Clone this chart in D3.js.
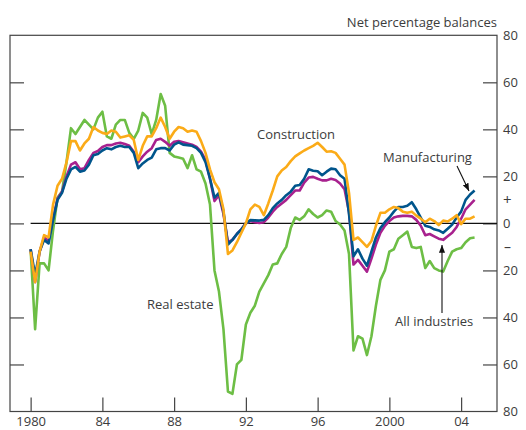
<!DOCTYPE html>
<html><head><meta charset="utf-8">
<script src="https://cdn.jsdelivr.net/npm/d3@7"></script>
<style>
html,body{margin:0;padding:0;background:#fff;}
svg{display:block;font-family:"Open Sans","Noto Sans",sans-serif;}
</style></head>
<body><svg id="c" width="526" height="430"></svg>
<script>
// Quarterly data, 1980 Q1 .. 2004 Q4
const startYear = 1980;
const manufacturing = [-11,-22,-12,-7,-8.5,1.5,10,13,19,23,24,22,22.5,25,29,29.5,31,32,31.5,32.5,33,32.5,32.5,30,23.5,25.5,27,28,31.5,32,32,31,33.5,34.5,33.5,33.3,33,32,30,26,
19,11,13,5,-9,-7,-4.5,-2.5,0,1.4,1.3,1.2,1.5,3.5,6.5,8.5,10,12,13.5,16,16.3,19,23,22.4,22.2,20.5,22,23.3,23,20.5,19,4,
-14,-11,-15,-18,-12,-6,-2,0.5,2.5,5,7,7,7.5,9,6,2.5,-1,-1.5,-2.5,-3,-4,-2.3,-0.5,2.5,5,10,12.3,14];
const allIndustries = [-11,-25,-12,-6,-7.5,2,10.5,13.5,20,25,26,23,23.5,27,30,30.8,32.5,33.3,33.3,34,34.3,33.8,33,30.5,26,28.5,30.5,32,35.5,36,34.7,33,34.7,35,34.5,34,33.5,32.5,30.5,27,
19,9.5,12,4,-8,-7,-4.5,-2.5,0,1,0.5,0.2,0.5,2.5,5,7,8.5,10,12,14,14,17.3,19.5,19.8,19,18.3,18.3,19,18.5,17,14.5,5,
-17.5,-15.5,-18,-20.5,-15,-9,-4,-1,1,2.5,3,3.2,3.2,3,1.5,-1,-5,-4.5,-5.5,-6.5,-7,-5.5,-4,-1.5,2,6,8,10];
const construction = [-12,-25,-12,-5,-6,8,16,19,26,35,35,31,34,36,41,39.5,38.5,38,39.5,39,36.5,37,37.5,35.5,27,33,37,37,40.5,45,41,36,39,41,40.5,39,39.5,39,35,30,
23,17.5,14.5,6,-13,-11.5,-8,-4,0,6,8,7,3.5,8.5,14,20,22.5,24,26.5,28.5,29.8,31,32,33,34.3,32.5,30.5,30.7,30,27.5,25,13,
-7,-6,-8,-10,-7.5,-1,4.5,4.5,6,7,6.5,5,4.5,5,3.3,2,0.5,2,1,-0.7,1.2,0.8,2,3.5,-0.3,2,2,3];
const realEstate = [-11,-45,-17,-17,-20,-3,11,13.5,26,40.5,38,41,44,42,40,45,47.5,37,36,42,44,44,38.5,36,39.5,47,45,38,44,55,50,30,28.5,28,27.5,23.5,29,23,22,17,
8,-20,-29,-45,-71.5,-72.5,-60,-58,-43,-38,-35,-29,-25.5,-22,-17.5,-17,-13,-10,-2,2.5,1.5,3,6,4,2.5,3.5,5.5,5,1,-0.5,-3,-13,
-54,-48,-49,-56,-48,-35,-24,-20,-12,-11,-6.5,-5,-3.5,-10,-10.5,-10,-19,-16,-19,-20,-20.5,-16,-12,-11,-10.5,-8,-6.3,-6];
const yTickValues = [80,60,40,20,0,-20,-40,-60,-80];
const xTickValues = [1980,1984,1988,1992,1996,2000,2004];
const xTickLabels = ["1980","84","88","92","96","2000","04"];

const svg = d3.select("#c");
const L = 10, R = 497, T = 35.3, B = 411.5;
const x = d3.scaleLinear().domain([1978.85, 2006.0]).range([L, R]);
const y = d3.scaleLinear().domain([-80, 80]).range([B, T]);
const ink = "#3c3c3c";

// frame
svg.append("rect").attr("x",L).attr("y",T).attr("width",R-L).attr("height",B-T)
  .attr("fill","none").attr("stroke","#444").attr("stroke-width",1.2);

// inner ticks
const innerY = [60,40,20,0,-20,-40,-60];
svg.append("g").attr("transform",`translate(${L},0)`)
  .call(d3.axisRight(y).tickValues(innerY).tickSize(14).tickFormat(""))
  .call(g=>{g.select(".domain").remove();g.selectAll("line").attr("stroke","#444").attr("stroke-width",1.2);});
svg.append("g").attr("transform",`translate(${R},0)`)
  .call(d3.axisLeft(y).tickValues(innerY).tickSize(14).tickFormat(""))
  .call(g=>{g.select(".domain").remove();g.selectAll("line").attr("stroke","#444").attr("stroke-width",1.2);});
svg.append("g").attr("transform",`translate(0,${B})`)
  .call(d3.axisTop(x).tickValues(xTickValues).tickSize(14).tickFormat(""))
  .call(g=>{g.select(".domain").remove();g.selectAll("line").attr("stroke","#444").attr("stroke-width",1.2);});

// right labels
svg.append("g").attr("transform",`translate(${R},0)`)
  .call(d3.axisRight(y).tickValues(yTickValues).tickSize(0).tickPadding(6).tickFormat(d=>Math.abs(d)))
  .call(g=>{g.select(".domain").remove();g.selectAll("text").attr("fill",ink).style("font-size","13px").style("font-family","'Open Sans','Noto Sans',sans-serif");});
svg.append("text").attr("x",R+6).attr("y",y(10)).attr("dy","0.35em").attr("fill",ink).style("font-size","15px").text("+");
svg.append("text").attr("x",R+7).attr("y",y(-10)).attr("dy","0.35em").attr("fill",ink).style("font-size","14px").text("–");

// bottom labels
svg.append("g").attr("transform",`translate(0,${B})`)
  .call(d3.axisBottom(x).tickValues(xTickValues).tickSize(0).tickPadding(5).tickFormat((d,i)=>xTickLabels[i]))
  .call(g=>{g.select(".domain").remove();g.selectAll("text").attr("fill",ink).style("font-size","13px").style("font-family","'Open Sans','Noto Sans',sans-serif");});

// title
svg.append("text").attr("x",R).attr("y",27).attr("text-anchor","end").attr("fill",ink)
  .style("font-size","13px").text("Net percentage balances");

// zero line
svg.append("line").attr("x1",x(1980)).attr("x2",R).attr("y1",y(0)).attr("y2",y(0))
  .attr("stroke","#111").attr("stroke-width",1.2);

const line = d3.line().x((d,i)=>x(startYear + i*0.25)).y(d=>y(d));
const series = [
  {data: realEstate, color:"#6dbe45"},
  {data: allIndustries, color:"#a8218e"},
  {data: manufacturing, color:"#00558c"},
  {data: construction, color:"#fbab18"}
];
series.forEach(s=>{
  svg.append("path").datum(s.data).attr("d",line).attr("fill","none")
    .attr("stroke",s.color).attr("stroke-width",2.6).attr("stroke-linejoin","round");
});

// annotations
function label(t,xx,yy){svg.append("text").attr("x",xx).attr("y",yy).attr("fill",ink).style("font-size","13px").text(t);}
label("Construction",257,139);
label("Manufacturing",383,162);
label("All industries",395,325.5);
label("Real estate",147,309);

svg.append("defs").append("marker").attr("id","ah").attr("viewBox","0 0 10 10").attr("refX",10).attr("refY",5)
  .attr("markerWidth",7).attr("markerHeight",7).attr("orient","auto-start-reverse")
  .append("path").attr("d","M0,1 L10,5 L0,9 Z").attr("fill","#111");
svg.append("line").attr("x1",457).attr("y1",166).attr("x2",469).attr("y2",191)
  .attr("stroke","#111").attr("stroke-width",1.1).attr("marker-end","url(#ah)");
svg.append("line").attr("x1",442).attr("y1",313).attr("x2",442).attr("y2",245)
  .attr("stroke","#111").attr("stroke-width",1.1).attr("marker-end","url(#ah)");
</script></body></html>
